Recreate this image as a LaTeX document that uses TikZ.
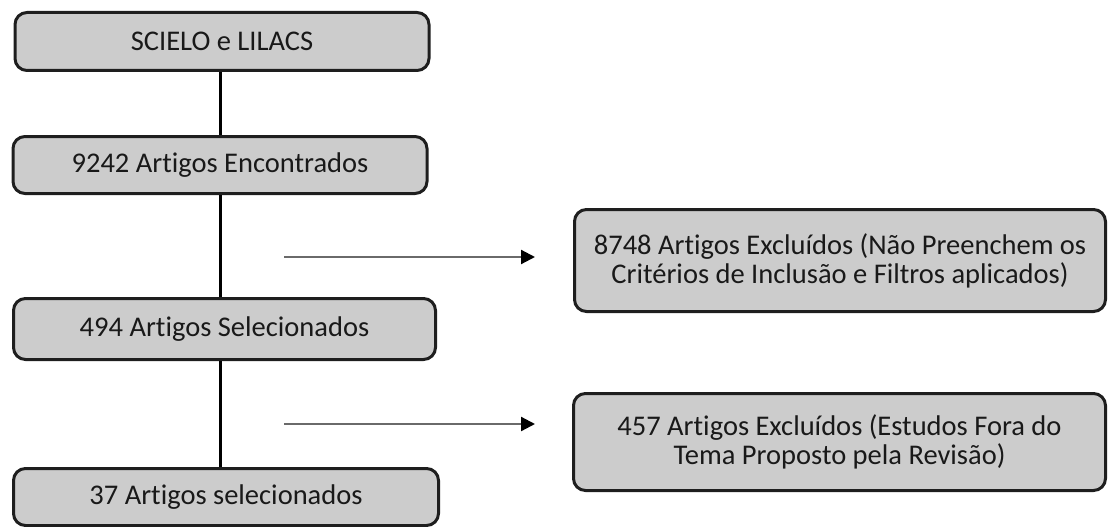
\documentclass[tikz,border=0pt]{standalone}
\usepackage{fontspec}
\setmainfont{Carlito}[Ligatures={NoCommon}]
\usetikzlibrary{arrows.meta}
\definecolor{boxfill}{HTML}{CCCCCC}
\definecolor{boxdraw}{HTML}{1E1E1E}
\definecolor{arrowgray}{HTML}{6A6A6A}
\tikzset{
  x=1pt,y=-1pt,
  flowbox/.style={draw=boxdraw, fill=boxfill, line width=3pt, rounded corners=12pt,
    align=center, inner sep=0pt, text=black!90, font=\fontsize{28.5}{29}\selectfont},
  link/.style={line width=3pt, draw=black},
  exarrow/.style={line width=2.2pt, draw=arrowgray, -{Triangle[length=14pt,width=14pt,fill=black,color=black]}}
}
\begin{document}
\begin{tikzpicture}
\useasboundingbox (0,0) rectangle (1108,527);
\node[flowbox, minimum width=414pt, minimum height=58pt] (b1) at (222,41.5) {SCIELO e LILACS};
\node[flowbox, minimum width=414pt, minimum height=57pt] (b2) at (220,165) {9242 Artigos Encontrados};
\node[flowbox, minimum width=422pt, minimum height=61pt] (b3) at (224.5,329) {494 Artigos Selecionados};
\node[flowbox, minimum width=425pt, minimum height=57pt] (b4) at (226,497) {37 Artigos selecionados};
\node[flowbox, minimum width=531pt, minimum height=102pt] (r1) at (840,260.5) {8748 Artigos Excluídos (Não Preenchem os\\Critérios de Inclusão e Filtros aplicados)};
\node[flowbox, minimum width=532pt, minimum height=97pt] (r2) at (839.5,442) {457 Artigos Excluídos (Estudos Fora do\\Tema Proposto pela Revisão)};
\draw[link] (b1.south -| 220,0) -- (b2.north -| 220,0);
\draw[link] (b2.south -| 220,0) -- (b3.north -| 220,0);
\draw[link] (b3.south -| 220,0) -- (b4.north -| 220,0);
\coordinate (a1s) at (284,257);
\coordinate (a1e) at (535,257);
\coordinate (a2s) at (284,424);
\coordinate (a2e) at (535,424);
\draw[exarrow] (a1s) -- (a1e);
\draw[exarrow] (a2s) -- (a2e);
\end{tikzpicture}
\end{document}
